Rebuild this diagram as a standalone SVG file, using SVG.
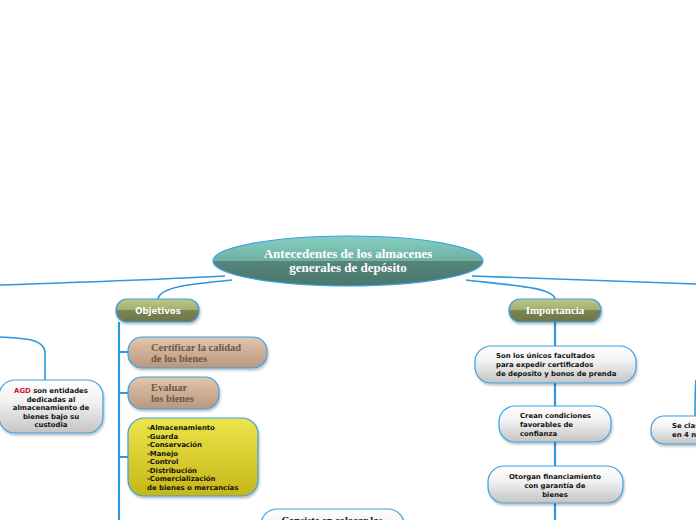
<svg xmlns="http://www.w3.org/2000/svg" width="696" height="520" viewBox="0 0 696 520">
<defs>
<linearGradient id="gTeal" x1="0" y1="0" x2="0" y2="1"><stop offset="0" stop-color="#86cfc0"/><stop offset="0.5" stop-color="#6fb0a3"/><stop offset="0.5" stop-color="#56857c"/><stop offset="1" stop-color="#4a776e"/></linearGradient>
<linearGradient id="gOlive" x1="0" y1="0" x2="0" y2="1"><stop offset="0" stop-color="#bcc98a"/><stop offset="0.5" stop-color="#a1ad6b"/><stop offset="0.5" stop-color="#7a8552"/><stop offset="1" stop-color="#6b7548"/></linearGradient>
<linearGradient id="gTan" x1="0" y1="0" x2="0" y2="1"><stop offset="0" stop-color="#e2c6ae"/><stop offset="1" stop-color="#b9977d"/></linearGradient>
<linearGradient id="gYellow" x1="0" y1="0" x2="0" y2="1"><stop offset="0" stop-color="#ece54a"/><stop offset="1" stop-color="#c6b618"/></linearGradient>
<linearGradient id="gGrey" x1="0" y1="0" x2="0" y2="1"><stop offset="0" stop-color="#ffffff"/><stop offset="0.4" stop-color="#f2f2f2"/><stop offset="1" stop-color="#c4c4c4"/></linearGradient>
<filter id="sh" x="-10%" y="-20%" width="120%" height="150%"><feDropShadow dx="1" dy="2" stdDeviation="1.2" flood-color="#000" flood-opacity="0.25"/></filter>
</defs>
<style>
.ln{fill:none;stroke:#2f97e0;stroke-width:1.6}
.vl{fill:none;stroke:#2f97e0;stroke-width:2.2}
.bx{stroke:#3aa0e6;stroke-width:1.2;filter:url(#sh)}
.sans{font-family:"DejaVu Sans","Liberation Sans",sans-serif;font-weight:bold;font-size:6.9px;fill:#111}
.serif{font-family:"Liberation Serif","DejaVu Serif",serif;font-weight:bold}
</style>
<rect width="696" height="520" fill="#fff"/>
<g id="connectors">
<path class="ln" d="M225 276 C150 280 60 283 0 285"/>
<path class="ln" d="M232 280 C190 284 160 287 158 299"/>
<path class="ln" d="M472 276 C560 279 640 282 696 284"/>
<path class="ln" d="M466 280 C520 286 553 288 555 299"/>
<path class="ln" d="M0 337 C20 338 44 338 45 352 L45 380"/>
<path class="ln" d="M696 380 C695 390 695 400 695 416"/>
<path class="vl" d="M119 322 L119 520"/>
<path class="vl" d="M119 352 L129 352 M119 393 L129 393 M119 457 L129 457"/>
<path class="vl" d="M555 322 L555 520"/>
</g>
<g id="root">
<ellipse cx="348" cy="261" rx="135" ry="25" fill="url(#gTeal)" stroke="#3aa0e6" stroke-width="1.2"/>
<text class="serif" font-size="13" fill="#fff" text-anchor="middle"><tspan x="348" y="258">Antecedentes de los almacenes</tspan><tspan x="348" y="271.5">generales de depósito</tspan></text>
</g>
<g id="objetivos">
<rect class="bx" x="116" y="299" width="83" height="23" rx="11" fill="url(#gOlive)"/>
<text x="158" y="314" text-anchor="middle" font-family="DejaVu Sans,sans-serif" font-weight="bold" font-size="8.5" fill="#fff">Objetivos</text>
</g>
<g id="certificar">
<rect class="bx" x="128" y="337" width="139" height="31" rx="14" fill="url(#gTan)"/>
<text class="serif" font-size="10.5" fill="#6b5848"><tspan x="151" y="351">Certificar la calidad</tspan><tspan x="151" y="362">de los bienes</tspan></text>
</g>
<g id="evaluar">
<rect class="bx" x="128" y="377" width="91" height="32" rx="14" fill="url(#gTan)"/>
<text class="serif" font-size="10.5" fill="#6b5848"><tspan x="151" y="391">Evaluar</tspan><tspan x="151" y="402">los bienes</tspan></text>
</g>
<g id="funciones">
<rect class="bx" x="128" y="418" width="130" height="78" rx="16" fill="url(#gYellow)"/>
<text class="sans"><tspan x="147" y="430">-Almacenamiento</tspan><tspan x="147" y="438.5">-Guarda</tspan><tspan x="147" y="447">-Conservación</tspan><tspan x="147" y="455.5">-Manejo</tspan><tspan x="147" y="464">-Control</tspan><tspan x="147" y="472.5">-Distribución</tspan><tspan x="147" y="481">-Comercialización</tspan><tspan x="147" y="489.5">de bienes o mercancías</tspan></text>
</g>
<g id="consiste">
<rect class="bx" x="261" y="509" width="143" height="40" rx="16" fill="url(#gGrey)"/>
<text class="serif" font-size="10.5" fill="#111" text-anchor="middle" x="332" y="524">Consiste en colocar las</text>
</g>
<g id="agd">
<rect class="bx" x="-1" y="380" width="104" height="53" rx="16" fill="url(#gGrey)"/>
<text class="sans" text-anchor="middle"><tspan x="51" y="393"><tspan fill="#cc1133">AGD</tspan> son entidades</tspan><tspan x="51" y="401.5">dedicadas al</tspan><tspan x="51" y="410">almacenamiento de</tspan><tspan x="51" y="418.5">bienes bajo su</tspan><tspan x="51" y="427">custodia</tspan></text>
</g>
<g id="importancia">
<rect class="bx" x="509" y="299" width="92" height="23" rx="11" fill="url(#gOlive)"/>
<text class="serif" x="555" y="314" text-anchor="middle" font-size="11" fill="#fff">Importancia</text>
</g>
<g id="unicos">
<rect class="bx" x="475" y="346" width="161" height="37" rx="16" fill="url(#gGrey)"/>
<text class="sans"><tspan x="496" y="358">Son los únicos facultados</tspan><tspan x="496" y="367">para expedir certificados</tspan><tspan x="496" y="376">de deposito y bonos de prenda</tspan></text>
</g>
<g id="crean">
<rect class="bx" x="499" y="406" width="112" height="36" rx="16" fill="url(#gGrey)"/>
<text class="sans"><tspan x="520" y="418">Crean condiciones</tspan><tspan x="520" y="427">favorables de</tspan><tspan x="520" y="436">confianza</tspan></text>
</g>
<g id="otorgan">
<rect class="bx" x="488" y="466" width="135" height="37" rx="16" fill="url(#gGrey)"/>
<text class="sans" text-anchor="middle"><tspan x="555" y="479">Otorgan financiamiento</tspan><tspan x="555" y="488">con garantía de</tspan><tspan x="555" y="497">bienes</tspan></text>
</g>
<g id="clasifica">
<rect class="bx" x="651" y="416" width="60" height="28" rx="13" fill="url(#gGrey)"/>
<text class="sans"><tspan x="672" y="428">Se clas</tspan><tspan x="672" y="437">en 4 n</tspan></text>
</g>
</svg>
